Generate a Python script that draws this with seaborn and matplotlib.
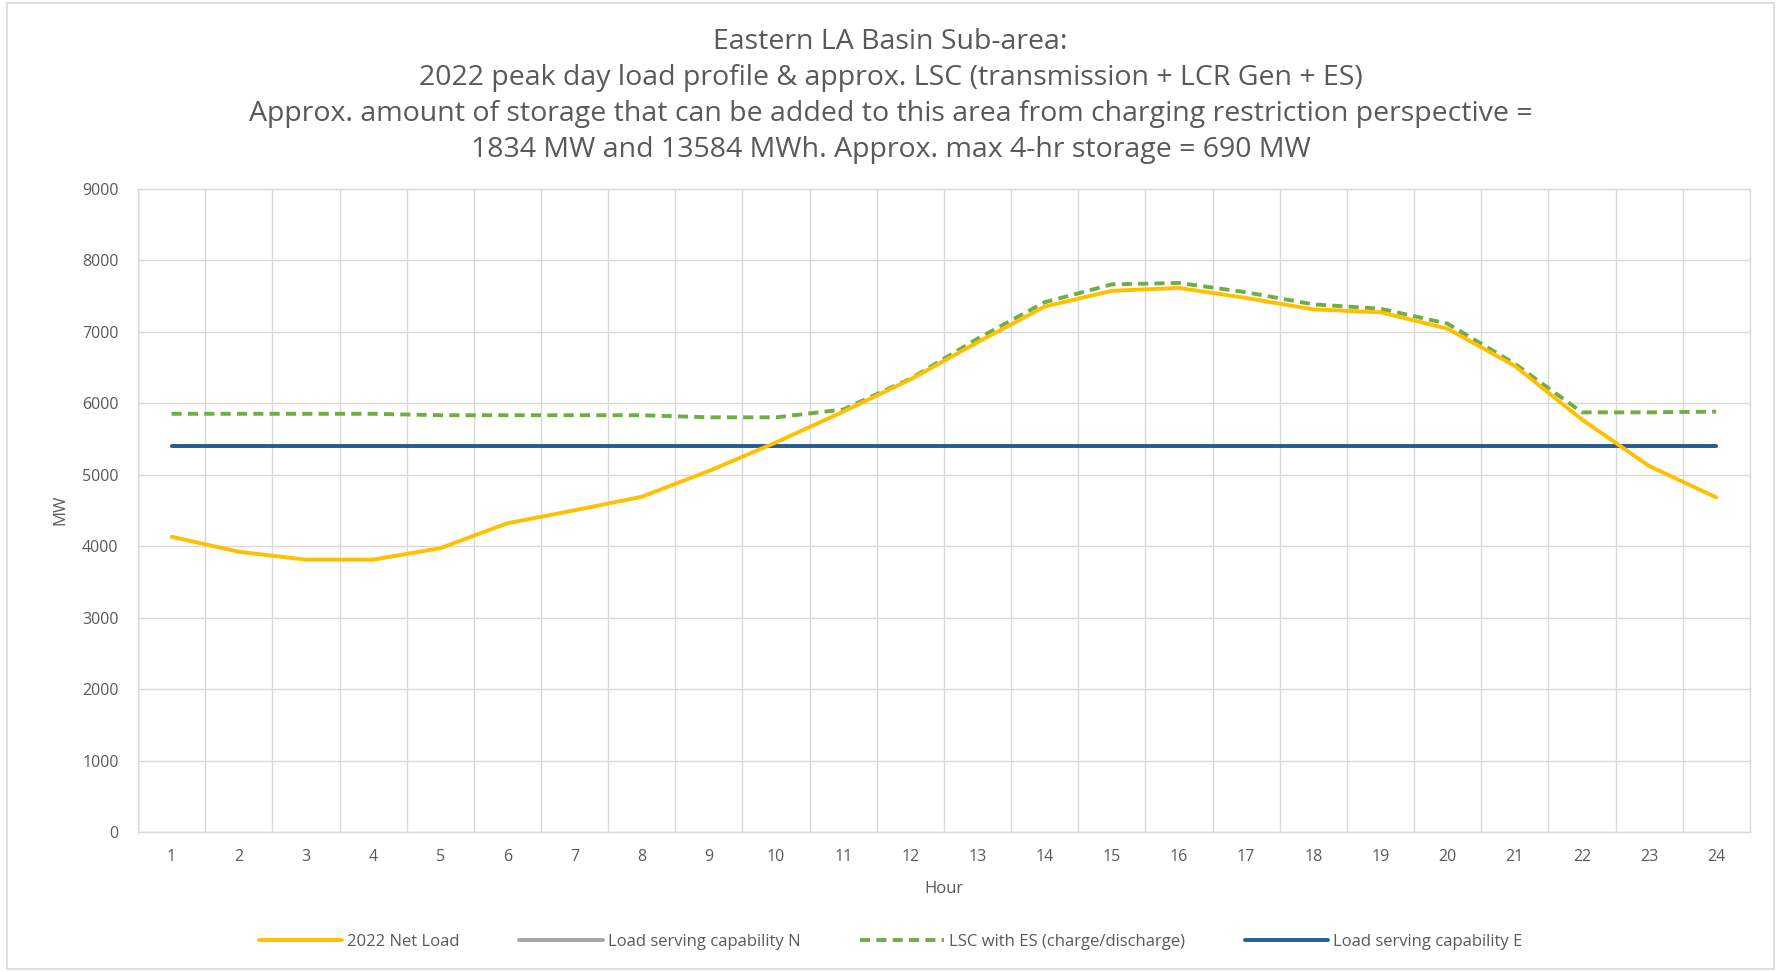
import numpy as np
import pandas as pd
import matplotlib
matplotlib.use("Agg")
import matplotlib.pyplot as plt
import seaborn as sns
from matplotlib.patches import Rectangle

hours = list(range(1, 25))
net_load = [4130, 3920, 3810, 3810, 3970, 4320, 4500, 4690, 5050, 5450,
            5880, 6330, 6850, 7350, 7570, 7610, 7470, 7310, 7270, 7040,
            6520, 5770, 5120, 4680]
lsc_n = [5400] * 24
lsc_es = [5850, 5850, 5850, 5850, 5830, 5830, 5830, 5830, 5800, 5800,
          5910, 6340, 6900, 7410, 7660, 7680, 7550, 7380, 7320, 7110,
          6550, 5870, 5870, 5880]
lsc_e = [5400] * 24

series_names = ["2022 Net Load", "Load serving capability N",
                "LSC with ES (charge/discharge)", "Load serving capability E"]
y_ticks = list(range(0, 9001, 1000))

title = ("Eastern LA Basin Sub-area:\n"
         "2022 peak day load profile & approx. LSC (transmission + LCR Gen + ES)\n"
         "Approx. amount of storage that can be added to this area from charging restriction perspective =\n"
         "1834 MW and 13584 MWh. Approx. max 4-hr storage = 690 MW")


def main():
    sns.set_theme(style="white")
    plt.rcParams['font.family'] = ['Open Sans', 'DejaVu Sans']
    text_col = "#595959"

    fig = plt.figure(figsize=(17.81, 9.72), dpi=100)
    ax = fig.add_axes([0.0775, 0.144, 0.905, 0.662])

    # outer chart frame
    fig.patches.append(Rectangle((0.004, 0.003), 0.992, 0.994, transform=fig.transFigure,
                                 fill=False, edgecolor="#D9D9D9", lw=1.2))

    df = pd.DataFrame({"Hour": hours, series_names[0]: net_load, series_names[1]: lsc_n,
                       series_names[2]: lsc_es, series_names[3]: lsc_e})

    sns.lineplot(data=df, x="Hour", y=series_names[0], ax=ax, color="#FFC000", lw=2.8,
                 label=series_names[0], zorder=4)
    sns.lineplot(data=df, x="Hour", y=series_names[1], ax=ax, color="#A5A5A5", lw=2.8,
                 label=series_names[1], zorder=2)
    sns.lineplot(data=df, x="Hour", y=series_names[2], ax=ax, color="#70AD47", lw=2.8,
                 label=series_names[2], zorder=3, linestyle=(0, (2.6, 1.6)))
    sns.lineplot(data=df, x="Hour", y=series_names[3], ax=ax, color="#255E91", lw=2.8,
                 label=series_names[3], zorder=3)

    ax.set_xlim(0.5, 24.5)
    ax.set_ylim(0, 9000)
    ax.set_xticks(hours)
    ax.set_xticks(np.arange(0.5, 24.6, 1), minor=True)
    ax.set_yticks(y_ticks)
    ax.grid(False)
    ax.grid(True, which="minor", axis="x", color="#D9D9D9", lw=1)
    ax.grid(True, which="major", axis="y", color="#D9D9D9", lw=1)
    ax.set_axisbelow(True)
    for s in ax.spines.values():
        s.set_color("#D9D9D9")
        s.set_linewidth(1)
    ax.tick_params(axis="both", which="both", length=0, colors=text_col, labelsize=11.5)
    ax.tick_params(axis="x", pad=12)
    ax.tick_params(axis="y", pad=14)

    ax.set_xlabel("Hour", color=text_col, fontsize=12, labelpad=12)
    ax.set_ylabel("MW", color=text_col, fontsize=12, labelpad=10)
    fig.suptitle(title, x=0.5, y=0.971, va="top", color=text_col, fontsize=20.5,
                 linespacing=1.38)

    handles, labels = ax.get_legend_handles_labels()
    ax.get_legend().remove()
    fig.legend(handles, labels, loc="center", bbox_to_anchor=(0.5, 0.031), ncol=4,
               frameon=False, fontsize=12, labelcolor=text_col, handlelength=5,
               columnspacing=3.6, handletextpad=0.3)

    fig.savefig("out.png", dpi=100)


if __name__ == '__main__':
    main()
